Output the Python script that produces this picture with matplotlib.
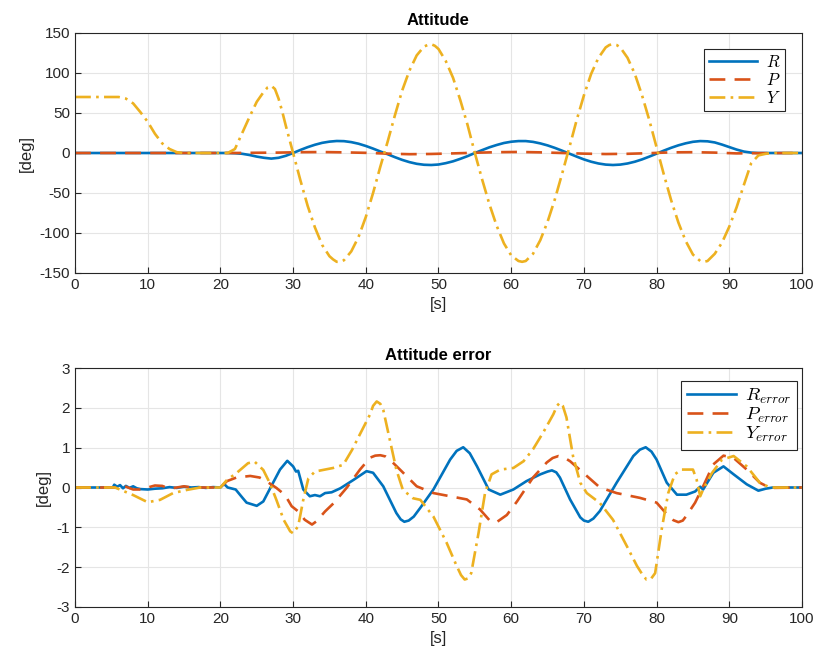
import numpy as np
import matplotlib
matplotlib.use("Agg")
import matplotlib.pyplot as plt

plt.rcParams["font.family"] = ["Liberation Sans", "DejaVu Sans"]
plt.rcParams["mathtext.fontset"] = "cm"
plt.rcParams["axes.unicode_minus"] = False

# ---------------- data ----------------
# Attitude (deg)
t_R = [0, 21, 22, 23, 24, 25, 26, 27, 28, 29, 30, 31, 32, 33, 34, 35, 36, 37, 38, 39,
       40, 41, 42, 43, 44, 45, 46, 47, 48, 49, 50, 51, 52, 53, 54, 55, 56, 57, 58, 59,
       60, 61, 62, 63, 64, 65, 66, 67, 68, 69, 70, 71, 72, 73, 74, 75, 76, 77, 78, 79,
       80, 81, 82, 83, 84, 85, 86, 87, 88, 89, 90, 91, 92, 93, 94, 100]
R = [0, 0, -0.3, -1, -2.5, -4.5, -6, -7, -6, -3.5, 0, 3.8, 7.3, 10.3, 12.7, 14.2, 15, 14.8, 13.6, 11.6,
     8.8, 5.5, 1.9, -1.5, -5.2, -8.6, -11.4, -13.5, -14.7, -15, -14.4, -12.7, -10.4, -7.3, -3.9, 0, 3.6, 7.1, 10, 12.5,
     14.1, 14.9, 14.9, 13.9, 12, 9.5, 6.4, 2.9, -0.8, -4.5, -8, -10.9, -13.1, -14.5, -15, -14.5, -13.1, -10.9, -8, -4.5,
     -0.8, 3, 6.5, 9.6, 12.1, 14, 14.9, 14.6, 13.2, 10.5, 7.4, 4.3, 1.8, 0.5, 0, 0]

t_P = [0, 22, 25, 28, 31, 34, 37, 40, 43, 46, 49, 52, 55, 58, 61, 64, 67, 70, 73, 76,
       79, 82, 85, 88, 91, 94, 100]
P = [0, 0, 0.3, 0.5, 1.0, 1.2, 0.8, 0.2, -0.8, -1.5, -1.2, -0.5, 0.3, 1.0, 1.3, 0.8, 0, -0.8, -1.3, -1.0,
     -0.2, 0.8, 1.0, 0.5, -0.5, -0.2, 0]

t_Y = [0, 6, 7, 8, 9, 10, 11, 12, 13, 14, 15, 21, 22, 23, 24, 25, 26, 26.5, 27, 27.5,
       28, 28.5, 29, 29.5, 30, 31, 32, 33, 34, 35, 35.5, 36, 36.5, 37, 38, 39, 40, 41, 42, 43,
       44, 45, 46, 47, 48, 48.5, 49, 49.5, 50, 51, 52, 53, 54, 55, 56, 57, 58, 59, 60, 61,
       61.5, 62, 63, 64, 65, 66, 67, 68, 69, 70, 71, 72, 73, 73.5, 74, 74.5, 75, 76, 77, 78,
       79, 80, 81, 82, 83, 84, 85, 86, 86.5, 87, 88, 89, 90, 91, 92, 93, 94, 95, 96, 100]
Y = [70, 70, 68, 62, 51, 39, 24, 12, 5, 1, 0, 0, 5, 25, 45, 64, 77, 82, 84, 80,
     68, 52, 34, 17, 0, -34, -66, -93, -115, -129, -133, -136, -136, -134, -123, -105, -80, -50, -17, 14,
     47, 78, 103, 122, 133, 135, 136, 134, 130, 115, 94, 66, 35, 0, -33, -64, -91, -113, -128, -135,
     -136, -135, -126, -109, -86, -58, -26, 7, 41, 72, 99, 119, 132, 135, 136, 135, 132, 119, 99, 72,
     41, 7, -27, -59, -87, -110, -127, -135, -136, -135, -126, -112, -92, -68, -40, -13, -3, -1, 0, 0]

# Attitude error (deg)
t_Re = [0, 5.2, 5.4, 5.8, 6.2, 6.6, 7.0, 7.5, 8.0, 8.5, 9.0, 10.0, 11.0, 12.0, 13.0, 14.0, 15.0, 16.0, 17.0, 18.0,
        19.0, 20.0, 20.5, 21.0, 22.1, 23.0, 23.6, 25.0, 25.9, 26.9, 28.2, 29.2, 30.0, 30.4, 30.7, 31.4, 32.3, 33.0, 33.7, 34.4,
        35.3, 36.5, 38.3, 40.1, 41.0, 42.4, 44.2, 44.8, 45.3, 45.9, 46.6, 47.5, 49.3, 51.6, 52.5, 53.4, 54.3, 55.3, 56.9, 58.5,
        60.3, 62.1, 64.0, 65.0, 65.6, 66.2, 66.7, 68.1, 69.5, 70.0, 70.6, 71.3, 72.2, 74.5, 76.8, 77.7, 78.5, 79.3, 80.0, 81.4,
        82.8, 84.1, 85.3, 86.0, 86.4, 87.8, 89.2, 90.6, 92.4, 94.0, 95.0, 96.0, 100]
Re = [0, 0, 0.07, 0.02, 0.06, -0.02, 0.04, -0.01, 0.03, -0.02, -0.04, -0.05, -0.03, -0.02, 0.01, -0.01, 0.02, 0.0, 0.01, -0.01,
      0.01, 0.0, 0.09, 0.0, -0.05, -0.25, -0.38, -0.46, -0.35, 0.0, 0.45, 0.67, 0.53, 0.4, 0.42, -0.05, -0.22, -0.19, -0.22, -0.14,
      -0.12, -0.02, 0.19, 0.41, 0.37, 0.03, -0.64, -0.80, -0.86, -0.83, -0.73, -0.51, -0.05, 0.70, 0.92, 1.01, 0.86, 0.53, -0.05, -0.18,
      -0.05, 0.16, 0.33, 0.40, 0.43, 0.38, 0.25, -0.30, -0.75, -0.83, -0.86, -0.78, -0.59, 0.12, 0.79, 0.95, 1.01, 0.90, 0.70, 0.12,
      -0.18, -0.18, -0.10, 0.02, -0.05, 0.37, 0.53, 0.33, 0.08, -0.08, -0.03, 0.0, 0.0]

t_Pe = [0, 5.5, 7.0, 8.0, 9.0, 10.0, 11.0, 12.0, 13.0, 14.0, 15.0, 16.0, 18.0, 20.0, 20.9, 22.2, 24.1, 25.4, 26.3, 27.7,
        28.9, 29.8, 30.7, 31.6, 32.6, 33.2, 34.4, 35.6, 37.4, 39.2, 40.6, 41.3, 42.0, 42.7, 43.3, 44.7, 47.0, 49.3, 51.6, 53.9,
        55.7, 57.1, 57.6, 58.0, 59.4, 60.8, 63.0, 64.9, 65.7, 66.5, 67.3, 68.1, 69.9, 72.2, 74.5, 77.7, 80.0, 81.4, 82.3, 83.0,
        83.6, 84.1, 85.3, 86.4, 87.8, 89.2, 90.6, 92.4, 94.2, 95.6, 100]
Pe = [0, 0, 0.02, -0.05, -0.05, 0.0, 0.05, 0.04, -0.03, 0.0, 0.03, 0.0, 0.0, 0.0, 0.16, 0.25, 0.29, 0.25, 0.16, -0.01,
      -0.19, -0.47, -0.60, -0.81, -0.93, -0.85, -0.60, -0.39, 0.0, 0.45, 0.75, 0.80, 0.81, 0.78, 0.70, 0.45, 0.03, -0.14, -0.22, -0.30,
      -0.55, -0.84, -0.87, -0.87, -0.69, -0.35, 0.25, 0.63, 0.74, 0.79, 0.75, 0.66, 0.37, 0.0, -0.14, -0.26, -0.38, -0.67, -0.82, -0.87,
      -0.83, -0.71, -0.38, 0.03, 0.58, 0.80, 0.74, 0.45, 0.12, -0.01, 0]

t_Ye = [0, 5.5, 8.0, 10.0, 11.7, 13.5, 15.4, 17.2, 20.0, 20.9, 22.2, 23.8, 24.7, 25.9, 26.8, 27.7, 28.7, 29.6, 30.0, 30.7,
        31.4, 32.1, 33.0, 34.1, 35.5, 36.9, 38.1, 39.2, 40.6, 41.0, 41.5, 42.0, 42.4, 43.3, 44.2, 45.1, 46.5, 47.5, 49.3, 51.1,
        52.5, 53.1, 53.6, 54.1, 54.5, 55.5, 56.4, 57.3, 58.5, 60.3, 61.7, 63.0, 64.4, 65.8, 66.3, 66.7, 67.1, 67.6, 68.5, 69.5,
        70.4, 72.2, 74.0, 75.9, 77.3, 78.1, 78.6, 79.2, 79.8, 80.7, 81.6, 82.5, 83.4, 85.0, 85.5, 86.0, 86.4, 87.6, 89.0, 90.6,
        92.4, 94.2, 95.6, 100]
Ye = [0, 0, -0.19, -0.37, -0.31, -0.14, -0.06, 0.0, 0.0, 0.19, 0.36, 0.61, 0.65, 0.44, 0.11, -0.31, -0.81, -1.10, -1.15, -0.97,
      -0.31, 0.23, 0.40, 0.44, 0.49, 0.57, 0.94, 1.34, 1.84, 2.05, 2.16, 2.10, 1.95, 1.20, 0.45, -0.06, -0.27, -0.31, -0.73, -1.38,
      -1.97, -2.20, -2.31, -2.28, -2.15, -1.15, -0.14, 0.33, 0.45, 0.49, 0.66, 0.96, 1.38, 1.84, 2.05, 2.13, 2.05, 1.76, 0.79, 0.12,
      -0.14, -0.39, -0.81, -1.47, -1.97, -2.20, -2.31, -2.30, -2.15, -1.05, -0.14, 0.33, 0.45, 0.45, 0.20, -0.22, -0.05, 0.36, 0.70, 0.79,
      0.53, 0.12, 0.0, 0]

# ---------------- plotting ----------------
BLUE, ORANGE, YELLOW = "#0072BD", "#D95319", "#EDB120"
lw = 1.9
DASH = (0, (6, 3.5))
DASHDOT = (0, (6, 2, 1, 2))

fig = plt.figure(figsize=(8.18, 6.63), dpi=100)
ax1 = fig.add_axes([75 / 818, 1 - 273 / 663, 727 / 818, 240 / 663])
ax2 = fig.add_axes([75 / 818, 1 - 607 / 663, 727 / 818, 239 / 663])

ax1.plot(t_R, R, color=BLUE, lw=lw, label="$R$")
ax1.plot(t_P, P, color=ORANGE, lw=lw, ls=DASH, label="$P$")
ax1.plot(t_Y, Y, color=YELLOW, lw=lw, ls=DASHDOT, label="$Y$")
ax1.set_ylim(-150, 150)
ax1.set_yticks(np.arange(-150, 151, 50))
ax1.set_title("Attitude", fontsize=12, fontweight="bold", pad=6)

ax2.plot(t_Re, Re, color=BLUE, lw=lw, label="$R_{error}$")
ax2.plot(t_Pe, Pe, color=ORANGE, lw=lw, ls=DASH, label="$P_{error}$")
ax2.plot(t_Ye, Ye, color=YELLOW, lw=lw, ls=DASHDOT, label="$Y_{error}$")
ax2.set_ylim(-3, 3)
ax2.set_yticks(np.arange(-3, 4, 1))
ax2.set_title("Attitude error", fontsize=12, fontweight="bold", pad=6)

# legend placement / sizing per panel
legend_opts = {
    ax1: dict(bbox_to_anchor=(0.977, 0.933), fontsize=12, handlelength=2.9, labelspacing=0.12),
    ax2: dict(bbox_to_anchor=(0.993, 0.946), fontsize=13.5, handlelength=2.6, labelspacing=0.0),
}
for ax in (ax1, ax2):
    ax.set_xlim(0, 100)
    ax.set_xticks(np.arange(0, 101, 10))
    ax.grid(True, color="#e5e5e5", lw=0.8)
    ax.set_axisbelow(True)
    ax.tick_params(direction="in", labelsize=11, colors="#262626", length=4)
    for s in ax.spines.values():
        s.set_color("#262626")
        s.set_linewidth(0.8)
    ax.set_xlabel("[s]", fontsize=12, color="#262626")
    ax.set_ylabel("[deg]", fontsize=12, color="#262626")
    leg = ax.legend(loc="upper right", borderaxespad=0, fancybox=False, framealpha=1,
                    edgecolor="#262626", handletextpad=0.5, borderpad=0.3, **legend_opts[ax])
    leg.get_frame().set_linewidth(0.8)

fig.savefig("out.png", dpi=100)
